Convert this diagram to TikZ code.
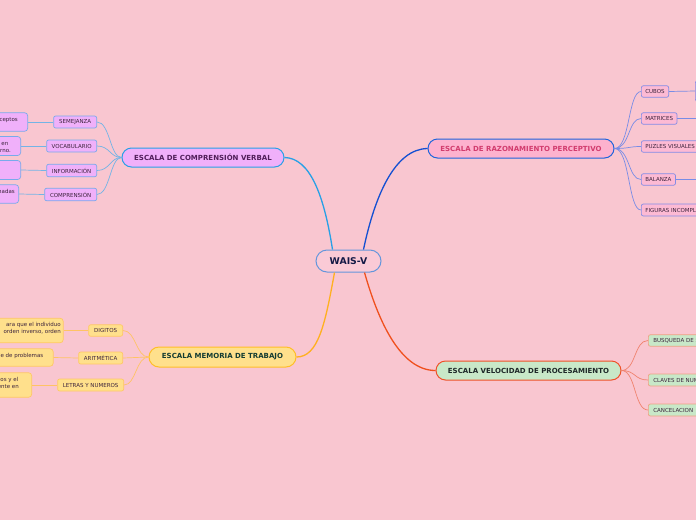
\documentclass[tikz,border=0pt]{standalone}
\usepackage{fontspec}
\setmainfont{DejaVu Sans}
\usetikzlibrary{calc}
\definecolor{bgpink}{RGB}{249,198,208}
\definecolor{waisfill}{RGB}{250,202,214}
\definecolor{waisdraw}{RGB}{100,150,220}
\definecolor{waistext}{RGB}{20,25,70}
\definecolor{vfill}{RGB}{240,176,250}
\definecolor{vdraw}{RGB}{40,160,230}
\definecolor{vtext}{RGB}{80,30,90}
\definecolor{vsubdraw}{RGB}{120,170,235}
\definecolor{vconn}{RGB}{115,180,230}
\definecolor{mfill}{RGB}{255,224,140}
\definecolor{mdraw}{RGB}{255,190,40}
\definecolor{mtext}{RGB}{20,60,50}
\definecolor{msubdraw}{RGB}{255,200,100}
\definecolor{mconn}{RGB}{255,176,32}
\definecolor{msubconn}{RGB}{255,195,100}
\definecolor{pfill}{RGB}{253,178,206}
\definecolor{pdraw}{RGB}{30,100,220}
\definecolor{ptext}{RGB}{210,60,110}
\definecolor{psubfill}{RGB}{253,186,212}
\definecolor{psubdraw}{RGB}{130,140,230}
\definecolor{pconn}{RGB}{20,80,210}
\definecolor{psubconn}{RGB}{120,140,230}
\definecolor{gfill}{RGB}{200,232,200}
\definecolor{gdraw}{RGB}{240,80,40}
\definecolor{gtext}{RGB}{30,40,40}
\definecolor{gsubdraw}{RGB}{240,160,130}
\definecolor{gconn}{RGB}{240,80,30}
\definecolor{gsubconn}{RGB}{240,130,110}
\definecolor{subtext}{RGB}{60,35,60}
\tikzset{
  mainbox/.style={draw, line width=1pt, rounded corners=9.5pt, minimum height=19pt, inner sep=0pt,
    font=\fontsize{7}{8}\selectfont\bfseries},
  subbox/.style={draw, line width=0.7pt, rounded corners=2pt, minimum height=12pt, inner sep=0pt,
    font=\fontsize{5.5}{6}\selectfont, text=subtext},
  leafbox/.style={draw, line width=0.7pt, rounded corners=3pt, inner sep=0pt},
  ltext/.style={inner sep=0pt, anchor=mid east, font=\fontsize{5.5}{6}\selectfont, text=subtext},
  vsub/.style={subbox, fill=vfill, draw=vsubdraw, anchor=east},
  msub/.style={subbox, fill=mfill, draw=msubdraw, anchor=east},
  psub/.style={subbox, fill=psubfill, draw=psubdraw, anchor=west, inner xsep=4pt},
  gsub/.style={subbox, fill=gfill, draw=gsubdraw, anchor=west, inner xsep=5pt},
  vleaf/.style={leafbox, fill=vfill, draw=vsubdraw, anchor=east, minimum width=60pt},
  mleaf/.style={leafbox, fill=mfill, draw=msubdraw, anchor=east, minimum width=90pt},
  pleaf/.style={leafbox, fill=psubfill, draw=psubdraw, anchor=west, minimum width=40pt},
}
\begin{document}
\begin{tikzpicture}[x=1pt,y=-1pt]
\useasboundingbox (0,0) rectangle (696,520);
\fill[bgpink] (0,0) rectangle (696,520);
\clip (0,0) rectangle (696,520);

% central
\node[mainbox, fill=waisfill, draw=waisdraw, text=waistext, minimum width=65pt, minimum height=22pt,
  rounded corners=11pt, font=\fontsize{9.3}{10}\selectfont\bfseries] (wais) at (348.5,261) {WAIS-V};

% main branches
\node[mainbox, fill=vfill, draw=vdraw, text=vtext, minimum width=162pt] (verb) at (203,157.5) {ESCALA DE COMPRENSIÓN VERBAL};
\node[mainbox, fill=mfill, draw=mdraw, text=mtext, minimum width=147pt, minimum height=20pt, rounded corners=10pt] (mem) at (222.5,357) {ESCALA MEMORIA DE TRABAJO};
\node[mainbox, fill=pfill, draw=pdraw, text=ptext, minimum width=186pt] (perc) at (521,148.5) {ESCALA DE RAZONAMIENTO PERCEPTIVO};
\node[mainbox, fill=gfill, draw=gdraw, text=gtext, minimum width=185pt] (vel) at (528.5,370.5) {ESCALA VELOCIDAD DE PROCESAMIENTO};

\draw[vdraw, line width=1.3pt] ($(wais.north west)+(17,0)$) .. controls (324,195) and (310,158) .. (verb.east);
\draw[pconn, line width=1.3pt] ($(wais.north east)+(-18,0)$) .. controls (375,195) and (395,149) .. (perc.west);
\draw[mconn, line width=1.3pt] ($(wais.south west)+(19,0)$) .. controls (325,325) and (318,357) .. (mem.east);
\draw[gconn, line width=1.3pt] ($(wais.south east)+(-17,0)$) .. controls (378,320) and (400,370.5) .. (vel.west);

% verbal subs
\node[vsub, minimum width=43pt] (sem) at (97,122) {SEMEJANZA};
\node[vsub, minimum width=50pt] (voc) at (97,146) {VOCABULARIO};
\node[vsub, minimum width=50pt, minimum height=12.5pt] (inf) at (97,170.5) {INFORMACIÓN};
\node[vsub, minimum width=52pt, minimum height=12.5pt] (comp) at (97,194.5) {COMPRENSIÓN};
\foreach \n in {sem,voc,inf,comp}
  \draw[vconn, line width=0.7pt] (verb.west) .. controls (110,157.5) and (110,0|-\n.east) .. (\n.east);

% verbal leaves
\node[vleaf, minimum height=18.5pt] (semL) at (28,122) {};
\node[vleaf, minimum height=19pt] (vocL) at (21,146) {};
\node[vleaf, minimum height=19pt] (infL) at (21,170) {};
\node[vleaf, minimum height=18.5pt] (compL) at (19,194) {};
\draw[vconn, line width=0.7pt] (sem.west) -- (semL.east);
\draw[vconn, line width=0.7pt] (voc.west) -- (vocL.east);
\draw[vconn, line width=0.7pt] (inf.west) -- (infL.east);
\draw[vconn, line width=0.7pt] (comp.west) -- (compL.east);
\node[ltext] (semT) at (18,119) {ceptos};
\node[ltext] (vocT1) at (8.5,142.5) {en};
\node[ltext] (vocT2) at (11,150) {rno.};
\node[ltext] (compT) at (15,191) {nadas};

% memory subs
\node[msub, minimum width=34pt, minimum height=11.5pt] (dig) at (123,330.5) {DIGITOS};
\node[msub, minimum width=44pt] (ari) at (123,358) {ARITMÉTICA};
\node[msub, minimum width=66pt] (let) at (124,385) {LETRAS Y NUMEROS};
\foreach \n in {dig,ari,let}
  \draw[msubconn, line width=0.7pt] (mem.west) .. controls (136,357) and (136,0|-\n.east) .. (\n.east);

% memory leaves
\node[mleaf, minimum height=24.5pt] (digL) at (63.5,330.5) {};
\node[mleaf, minimum height=17.5pt] (ariL) at (53.5,357.5) {};
\node[mleaf, minimum height=24.5pt] (letL) at (32,385) {};
\draw[msubconn, line width=0.7pt] (dig.west) -- (digL.east);
\draw[msubconn, line width=0.7pt] (ari.west) -- (ariL.east);
\draw[msubconn, line width=0.7pt] (let.west) -- (letL.east);
\node[ltext] (digT1) at (61,324) {ara que el individuo};
\node[ltext] (digT2) at (61,331) {orden inverso, orden};
\node[ltext] (ariT) at (43.5,355) {le de problemas};
\node[ltext] (letT1) at (18.5,379) {os y el};
\node[ltext] (letT2) at (19,385.5) {ente en};

% perceptual subs
\node[psub, minimum height=11.5pt] (cub) at (641,91.5) {CUBOS};
\node[psub, minimum height=11.5pt] (mat) at (641,118.5) {MATRICES};
\node[psub, minimum height=11.5pt] (puz) at (641,146.5) {PUZLES VISUALES};
\node[psub, minimum height=11.5pt] (bal) at (641,179.5) {BALANZA};
\node[psub, minimum height=12pt] (fig) at (641,210) {FIGURAS INCOMPLETAS};
\foreach \n in {cub,mat,puz,bal,fig}
  \draw[psubconn, line width=0.7pt] (perc.east) .. controls (630,148.5) and (628,0|-\n.west) .. (\n.west);

% perceptual leaves (mostly beyond the right edge)
\node[pleaf, minimum height=22pt] (cubL) at (695,91) {};
\node[pleaf, minimum height=20pt] (matL) at (697,118.5) {};
\node[pleaf, minimum height=20pt] (balL) at (697,179.5) {};
\draw[psubconn, line width=0.7pt] (cub.east) -- (cubL.west);
\draw[psubconn, line width=0.7pt] (mat.east) -- (matL.west);
\draw[psubconn, line width=0.7pt] (bal.east) -- (balL.west);

% velocity subs
\node[gsub, minimum height=11.5pt] (bus) at (648,340.5) {BUSQUEDA DE SIMBOLOS};
\node[gsub, minimum height=12pt] (cla) at (648,380) {CLAVES DE NUMEROS};
\node[gsub, minimum height=12pt, text width=52pt, align=left] (can) at (648,410) {CANCELACION};
\foreach \n in {bus,cla,can}
  \draw[gsubconn, line width=0.7pt] (vel.east) .. controls (636,370.5) and (634,0|-\n.west) .. (\n.west);
\end{tikzpicture}
\end{document}
